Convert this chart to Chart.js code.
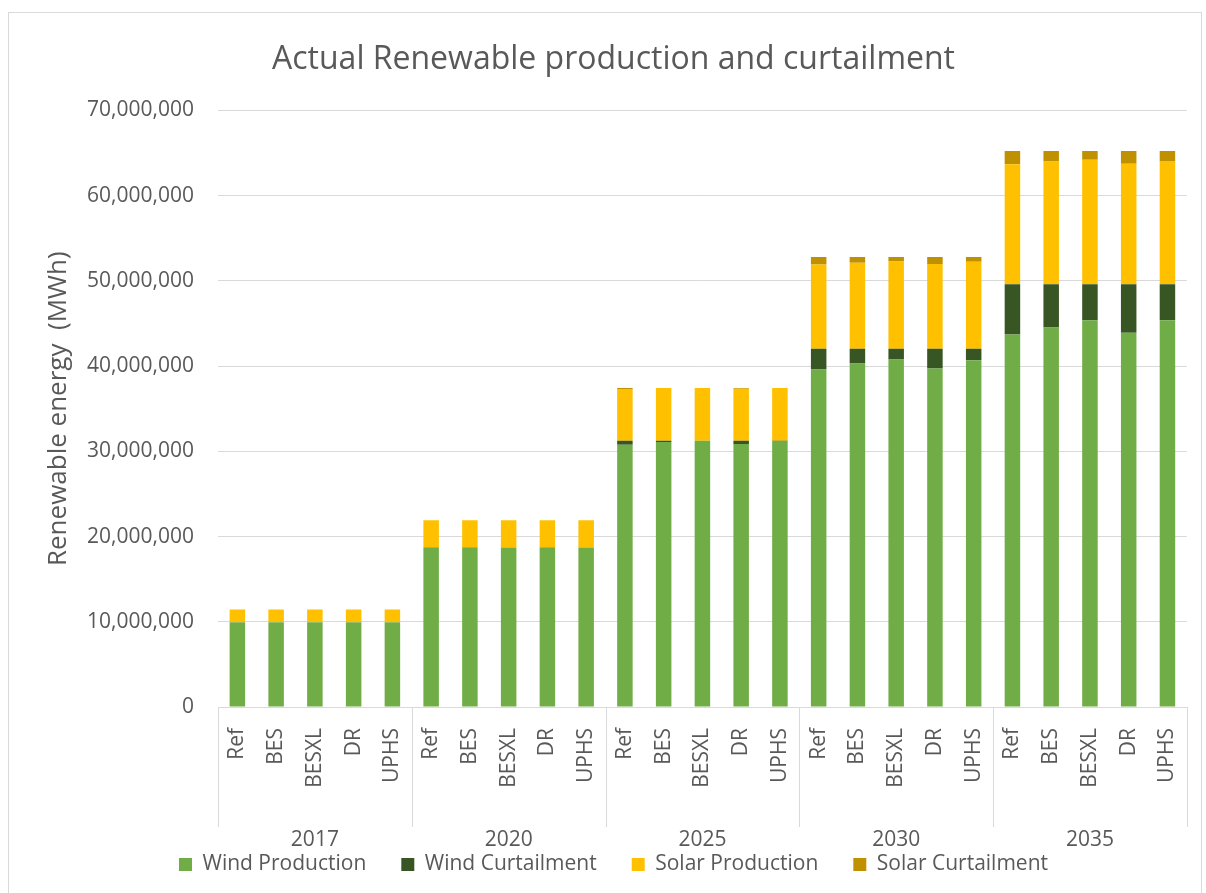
<!DOCTYPE html>
<html>
<head>
<meta charset="utf-8">
<script src="https://cdn.jsdelivr.net/npm/chart.js@4/dist/chart.umd.min.js"></script>
<style>
  html, body { margin: 0; padding: 0; background: #fff; }
  #wrap { width: 1206px; height: 893px; position: relative; }
</style>
</head>
<body>
<div id="wrap"><canvas id="renewChart"></canvas></div>
<script>
// scenarios per year, stacked MWh values
const years = ['2017', '2020', '2025', '2030', '2035'];
const scenarios = ['Ref', 'BES', 'BESXL', 'DR', 'UPHS'];

const windProduction = [
  9930000, 9930000, 9930000, 9930000, 9930000,
  18740000, 18740000, 18720000, 18740000, 18720000,
  30760000, 31080000, 31230000, 30870000, 31200000,
  39590000, 40300000, 40770000, 39710000, 40690000,
  43720000, 44540000, 45370000, 43910000, 45370000
];
const windCurtailment = [
  0, 0, 0, 0, 0,
  0, 0, 0, 0, 0,
  470000, 150000, 0, 360000, 30000,
  2440000, 1730000, 1260000, 2320000, 1340000,
  5890000, 5070000, 4240000, 5700000, 4240000
];
const solarProduction = [
  1500000, 1500000, 1500000, 1500000, 1500000,
  3180000, 3180000, 3180000, 3180000, 3180000,
  6090000, 6190000, 6190000, 6110000, 6190000,
  9900000, 10090000, 10250000, 9940000, 10210000,
  14060000, 14380000, 14610000, 14140000, 14460000
];
const solarCurtailment = [
  0, 0, 0, 0, 0,
  0, 0, 0, 0, 0,
  120000, 20000, 20000, 100000, 20000,
  860000, 670000, 510000, 820000, 550000,
  1580000, 1260000, 1030000, 1500000, 1180000
];

const labels = [];
years.forEach(() => scenarios.forEach(s => labels.push(s)));

const textColor = '#595959';
const gridColor = '#d9d9d9';
const fontFamily = '"Open Sans", sans-serif';

// year row under the scenario labels, plus the group separators
const yearGroups = {
  id: 'yearGroups',
  afterDraw(chart) {
    const ctx = chart.ctx;
    const x = chart.scales.x;
    const base = chart.chartArea.bottom;
    const half = (x.getPixelForTick(1) - x.getPixelForTick(0)) / 2;
    ctx.save();
    ctx.strokeStyle = gridColor;
    ctx.lineWidth = 1;
    for (let g = 0; g <= years.length; g++) {
      const idx = Math.min(g * scenarios.length, labels.length - 1);
      let px = x.getPixelForTick(idx) - half;
      if (g === years.length) px = x.getPixelForTick(labels.length - 1) + half;
      px = Math.round(px) + 0.5;
      ctx.beginPath();
      ctx.moveTo(px, base);
      ctx.lineTo(px, base + 120);
      ctx.stroke();
    }
    ctx.fillStyle = textColor;
    ctx.font = '21px ' + fontFamily;
    ctx.textAlign = 'center';
    ctx.textBaseline = 'middle';
    years.forEach((yr, g) => {
      const a = x.getPixelForTick(g * scenarios.length);
      const b = x.getPixelForTick(g * scenarios.length + scenarios.length - 1);
      ctx.fillText(yr, (a + b) / 2, base + 133);
    });
    ctx.restore();
  }
};

const frame = {
  id: 'frame',
  beforeDraw(chart) {
    const ctx = chart.ctx;
    ctx.save();
    ctx.strokeStyle = gridColor;
    ctx.lineWidth = 1;
    ctx.strokeRect(8.5, 12.5, 1193, 1000);
    ctx.restore();
  }
};

function series(label, data, color) {
  return {
    label: label,
    data: data,
    backgroundColor: color,
    borderWidth: 0,
    categoryPercentage: 1,
    barPercentage: 0.4
  };
}

new Chart(document.getElementById('renewChart'), {
  type: 'bar',
  data: {
    labels: labels,
    datasets: [
      series('Wind Production', windProduction, '#70ad47'),
      series('Wind Curtailment', windCurtailment, '#375623'),
      series('Solar Production', solarProduction, '#ffc000'),
      series('Solar Curtailment', solarCurtailment, '#bf9000')
    ]
  },
  options: {
    responsive: true,
    maintainAspectRatio: false,
    animation: false,
    layout: { padding: { left: 39, right: 18, top: 0, bottom: 8 } },
    plugins: {
      title: {
        display: true,
        text: 'Actual Renewable production and curtailment',
        color: textColor,
        font: { family: fontFamily, size: 32, weight: 'normal' },
        padding: { top: 41, bottom: 31 }
      },
      legend: {
        position: 'bottom',
        labels: {
          color: textColor,
          font: { family: fontFamily, size: 21 },
          boxWidth: 13,
          boxHeight: 13,
          padding: 35
        }
      },
      tooltip: { enabled: false }
    },
    scales: {
      x: {
        stacked: true,
        grid: { display: false },
        border: { display: true, color: gridColor },
        ticks: {
          color: textColor,
          font: { family: fontFamily, size: 21 },
          minRotation: 90,
          maxRotation: 90,
          autoSkip: false,
          padding: 13
        },
        afterFit(scale) { scale.height = 112; }
      },
      y: {
        stacked: true,
        min: 0,
        max: 70000000,
        grid: { color: gridColor, drawTicks: false },
        border: { display: false },
        ticks: {
          stepSize: 10000000,
          color: textColor,
          font: { family: fontFamily, size: 21 },
          padding: 24,
          callback: v => v.toLocaleString('en-US')
        },
        title: {
          display: true,
          text: 'Renewable energy  (MWh)',
          color: textColor,
          font: { family: fontFamily, size: 26 }
        },
        afterFit(scale) { scale.width = 179; }
      }
    }
  },
  plugins: [frame, yearGroups]
});
</script>
</body>
</html>
